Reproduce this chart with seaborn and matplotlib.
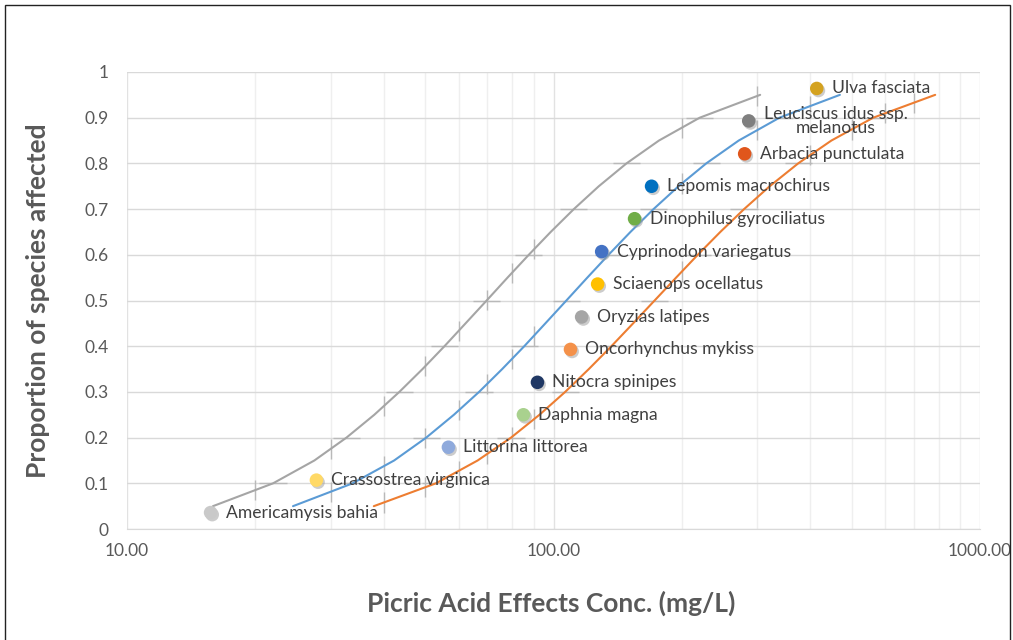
import numpy as np
import pandas as pd
import seaborn as sns
import matplotlib.pyplot as plt
from matplotlib import patheffects
from matplotlib.patches import Rectangle
from matplotlib.ticker import FixedLocator, NullFormatter

# species sensitivity points (Hazen plotting positions)
species = ['Americamysis bahia', 'Crassostrea virginica', 'Littorina littorea',
           'Daphnia magna', 'Nitocra spinipes', 'Oncorhynchus mykiss',
           'Oryzias latipes', 'Sciaenops ocellatus', 'Cyprinodon variegatus',
           'Dinophilus gyrociliatus', 'Lepomis macrochirus', 'Arbacia punctulata',
           'Leuciscus idus ssp.\nmelanotus', 'Ulva fasciata']
conc = [15.7, 27.8, 56.7, 85.0, 91.7, 109.6, 116.4, 126.9, 129.7,
        154.9, 169.8, 280.7, 286.9, 414.3]
proportion = [0.036, 0.107, 0.179, 0.250, 0.321, 0.393, 0.464, 0.536,
              0.607, 0.679, 0.750, 0.821, 0.893, 0.964]
dot_colors = ['#c9c9c9', '#ffd966', '#8faadc', '#a9d18e', '#203864', '#f4914a',
              '#a5a5a5', '#ffc000', '#4472c4', '#70ad47', '#0070c0', '#e0561c',
              '#7f7f7f', '#d4a21f']

# fitted curves
curve_prop = [0.05, 0.10, 0.15, 0.20, 0.25, 0.30, 0.35, 0.40, 0.45, 0.50,
              0.55, 0.60, 0.65, 0.70, 0.75, 0.80, 0.85, 0.90, 0.95]
lower_conc = [15.9, 22.0, 27.5, 32.7, 38.0, 43.5, 49.3, 55.5, 62.2, 69.7,
              78.0, 87.5, 98.5, 111.6, 127.7, 148.3, 176.7, 220.2, 305.2]
fit_conc = [24.5, 33.8, 42.3, 50.3, 58.4, 66.9, 75.8, 85.4, 95.7, 107.2,
            120.0, 134.6, 151.5, 171.6, 196.4, 228.1, 271.8, 338.7, 469.4]
upper_conc = [37.9, 53.0, 66.4, 79.5, 92.7, 106.5, 121.0, 136.7, 153.7, 172.6,
              193.8, 217.9, 246.1, 279.8, 321.3, 374.7, 448.3, 561.9, 785.2]
curve_colors = {'lower': '#a5a5a5', 'fit': '#5b9bd5', 'upper': '#ed7d31'}

sns.set_style('white')
plt.rcParams['font.family'] = ['Lato', 'DejaVu Sans']

fig, ax = plt.subplots(figsize=(10.13, 6.4), dpi=100)
fig.subplots_adjust(left=0.1254, right=0.9674, bottom=0.1734, top=0.8875)

curves = pd.concat([
    pd.DataFrame({'conc': c, 'prop': curve_prop, 'curve': name})
    for name, c in [('lower', lower_conc), ('fit', fit_conc), ('upper', upper_conc)]
])

ax.set_xscale('log')
ax.set_xlim(10, 1000)
ax.set_ylim(0, 1)

sns.lineplot(data=curves, x='conc', y='prop', hue='curve', palette=curve_colors,
             estimator=None, sort=False, legend=False, lw=1.5, ax=ax, zorder=3)

# short grey marks where the curves cross the gridlines
grid_x = [v * m for m in (10, 100) for v in range(2, 10)]
grid_y = np.arange(1, 10) / 10
for c in (lower_conc, fit_conc, upper_conc):
    lc = np.log10(c)
    for gy in grid_y:
        cx = np.interp(gy, curve_prop, lc)
        ax.hlines(gy, 10 ** (cx - 0.032), 10 ** (cx + 0.032), color='#b9b9b9', lw=1.0, zorder=2)
    for gx in grid_x:
        if c[0] <= gx <= c[-1]:
            cy = np.interp(np.log10(gx), lc, curve_prop)
            ax.vlines(gx, cy - 0.022, cy + 0.022, color='#b9b9b9', lw=1.0, zorder=2)

pts = pd.DataFrame({'species': species, 'conc': conc, 'prop': proportion})
sns.scatterplot(data=pts, x='conc', y='prop', hue='species',
                palette=dict(zip(species, dot_colors)), s=95, edgecolor='none',
                legend=False, ax=ax, zorder=5)
ax.collections[-1].set_path_effects([
    patheffects.SimplePatchShadow(offset=(1.2, -1.5), shadow_rgbFace='#9a9a9a', alpha=0.5),
    patheffects.Normal()])

for name, x, y in zip(species, conc, proportion):
    ax.annotate(name, (x, y), xytext=(15, 0), textcoords='offset pixels',
                ha='left', va='center', ma='center', fontsize=12.6,
                color='#404040', zorder=6, linespacing=0.8)

ax.set_xticks([10, 100, 1000])
ax.set_xticklabels(['10.00', '100.00', '1000.00'])
ax.xaxis.set_minor_locator(FixedLocator(grid_x))
ax.xaxis.set_minor_formatter(NullFormatter())
ax.set_yticks(np.arange(0, 11) / 10)
ax.set_yticklabels(['0'] + ['%.1f' % v for v in np.arange(1, 10) / 10] + ['1'])
ax.tick_params(which='both', length=0, labelsize=12.5, labelcolor='#595959')
ax.tick_params(axis='y', pad=13)
ax.tick_params(axis='x', pad=10)

ax.grid(which='major', axis='y', color='#d9d9d9', lw=1)
ax.grid(which='major', axis='x', color='#e2e2e2', lw=1)
ax.grid(which='minor', axis='x', color='#efefef', lw=1)
ax.set_axisbelow(True)
for side in ['top', 'right', 'left']:
    ax.spines[side].set_visible(False)
ax.spines['bottom'].set_color('#d9d9d9')

ax.set_xlabel('Picric Acid Effects Conc. (mg/L)', fontsize=19, fontweight='bold', color='#595959')
ax.set_ylabel('Proportion of species affected', fontsize=19, fontweight='bold', color='#595959')
ax.xaxis.set_label_coords(0.497, -0.162)
ax.yaxis.set_label_coords(-0.104, 0.5)
ax.xaxis.label.set_va('center')
ax.yaxis.label.set_va('center')

fig.patches.append(Rectangle((5 / 1013, -0.1), 1005 / 1013, 1.1 - 5 / 640,
                             transform=fig.transFigure, fill=False, ec='#222222', lw=1))

fig.savefig('out.png', dpi=100)
